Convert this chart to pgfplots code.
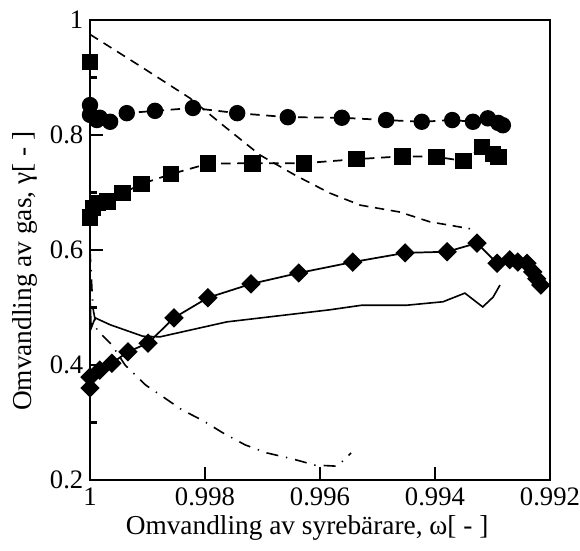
\documentclass[border=0pt]{standalone}
\usepackage{fontspec}
\setmainfont{Liberation Serif}
\usepackage{pgfplots}
\pgfplotsset{compat=1.18}
\begin{document}
\begin{tikzpicture}
\begin{axis}[
 scale only axis, width=345pt, height=345pt,
 xmin=0.992, xmax=1, x dir=reverse,
 ymin=0.2, ymax=1,
 xtick={0.992,0.994,0.996,0.998,1}, xticklabels={0.992,0.994,0.996,0.998,1},
 ytick={0.2,0.4,0.6,0.8,1}, yticklabels={0.2,0.4,0.6,0.8,1},
 minor ytick={0.3,0.5,0.7,0.9},
 tick align=inside, xtick pos=bottom, ytick pos=left,
 major tick length=10pt, minor tick length=5pt,
 axis line style={line width=1.6pt},
 every tick/.style={line width=1.6pt, black},
 tick label style={font=\fontsize{20}{24}\selectfont},
 xticklabel style={yshift=-2.5pt},
 yticklabel style={xshift=-1.5pt},
 label style={font=\fontsize{20.5}{24}\selectfont},
 xlabel={Omvandling av syrebärare, ω[ - ]},
 ylabel={Omvandling av gas, γ[ - ]},
 x label style={at={(axis description cs:0.472,-0.104)}, anchor=center},
 y label style={at={(axis description cs:-0.141,0.454)}, anchor=center},
 clip=false,
]
\addplot[black, line width=1.3pt, dash pattern=on 7pt off 5pt, mark=*, mark size=5.5pt, mark options={solid}] coordinates {
(1.0,0.852) (1.0,0.835) (0.99988,0.826) (0.99983,0.830) (0.99965,0.823) (0.99936,0.838) (0.99887,0.842) (0.99821,0.847) (0.99744,0.838) (0.99656,0.831) (0.99562,0.830) (0.99485,0.826) (0.99423,0.823) (0.99370,0.826) (0.99334,0.823) (0.99308,0.829) (0.99290,0.821) (0.99282,0.817)
};
\addplot[black, line width=1.3pt, dash pattern=on 7pt off 5pt, mark=square*, mark size=5.6pt, mark options={solid}] coordinates {
(1.0,0.927) (1.0,0.656) (0.99995,0.673) (0.99986,0.682) (0.99969,0.684) (0.99943,0.699) (0.99910,0.715) (0.99859,0.732) (0.99795,0.750) (0.99717,0.751) (0.99628,0.751) (0.99536,0.758) (0.99456,0.763) (0.99397,0.762) (0.99351,0.755) (0.99318,0.779) (0.99299,0.767) (0.99290,0.762)
};
\addplot[black, line width=1.3pt, mark=square*, mark size=4.5pt, mark options={rotate=45}] coordinates {
(1.0,0.360) (1.0,0.379) (0.99983,0.391) (0.99962,0.403) (0.99934,0.423) (0.99899,0.438) (0.99854,0.482) (0.99795,0.517) (0.99720,0.541) (0.99637,0.560) (0.99543,0.579) (0.99452,0.595) (0.99379,0.597) (0.99327,0.612) (0.99292,0.577) (0.99270,0.583) (0.99256,0.579) (0.99240,0.577) (0.99230,0.562) (0.99223,0.550) (0.99216,0.539)
};
\addplot[black, line width=1.2pt, dash pattern=on 7pt off 5pt] coordinates {
(1.0,0.975) (0.99913,0.920) (0.99826,0.864) (0.99765,0.814) (0.99704,0.765) (0.99643,0.730) (0.99583,0.699) (0.99530,0.678) (0.99461,0.666) (0.99409,0.649) (0.99339,0.637)
};
\addplot[black, line width=1.2pt] coordinates {
(1.0,0.518) (0.99998,0.464) (0.99991,0.482) (0.99965,0.470) (0.99908,0.450) (0.99878,0.449) (0.99762,0.475) (0.99583,0.496) (0.99527,0.504) (0.99449,0.504) (0.99386,0.510) (0.99348,0.525) (0.99317,0.501) (0.99299,0.518) (0.99287,0.539)
};
\addplot[black, line width=1.2pt, dash pattern=on 9pt off 6pt on 1pt off 6pt] coordinates {
(1.0,0.60) (0.99995,0.50) (0.99988,0.461) (0.99962,0.435) (0.99939,0.40) (0.99903,0.365) (0.99875,0.346) (0.99840,0.322) (0.99803,0.303) (0.99769,0.282) (0.99730,0.261) (0.99692,0.247) (0.99649,0.237) (0.99609,0.226) (0.99570,0.224) (0.99546,0.247)
};
\end{axis}
\pgfresetboundingbox
\path (-67.5pt,-52.5pt) rectangle (367.5pt,360pt);
\end{tikzpicture}
\end{document}
